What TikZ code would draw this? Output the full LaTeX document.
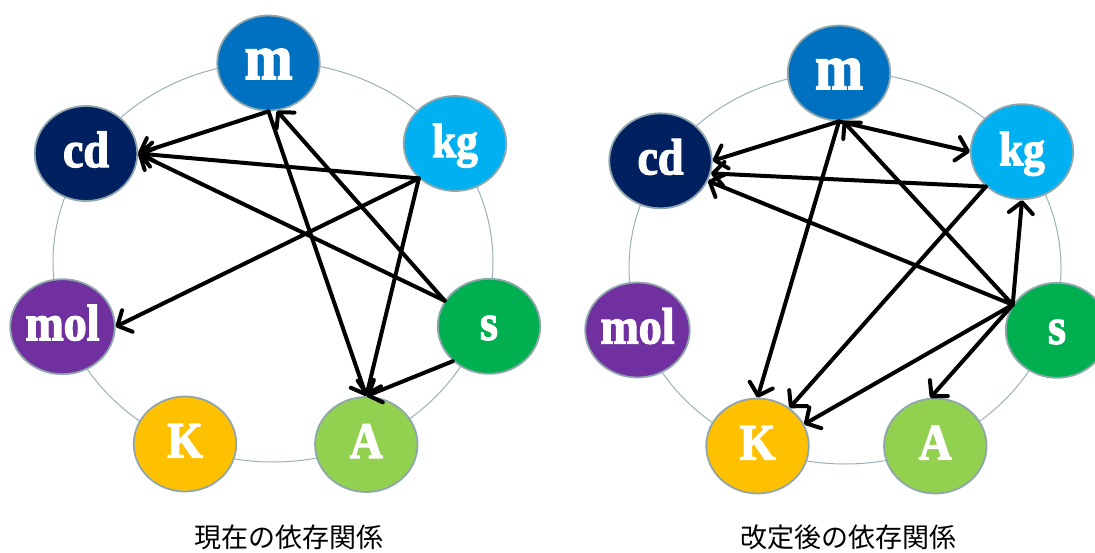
\documentclass[tikz,border=0pt]{standalone}
\usepackage{fontspec}
\newfontfamily\nodefont{Liberation Serif}[FakeStretch=0.9,FakeBold=2.5]
\newfontfamily\cjkfont{Noto Sans CJK JP}
\usetikzlibrary{shapes.geometric,arrows.meta}
\definecolor{colm}{HTML}{0070C0}
\definecolor{colcd}{HTML}{002060}
\definecolor{colkg}{HTML}{00B0F0}
\definecolor{cols}{HTML}{00B050}
\definecolor{colA}{HTML}{92D050}
\definecolor{colK}{HTML}{FFC000}
\definecolor{colmol}{HTML}{7030A0}
\definecolor{nodeborder}{HTML}{8FA6AC}
\definecolor{ringcol}{HTML}{9BB1B6}
\tikzset{
  unit/.style={ellipse, draw=nodeborder, line width=1.8pt,
    minimum width=102.5pt, minimum height=95pt, inner sep=0pt,
    text=white, text height=27pt, text depth=0pt,
    font={\nodefont\bfseries\fontsize{51pt}{51pt}\selectfont}},
  bigunit/.style={unit, text height=32pt,
    font={\nodefont\bfseries\fontsize{64pt}{64pt}\selectfont}},
  midunit/.style={unit,
    font={\nodefont\bfseries\fontsize{48pt}{48pt}\selectfont}},
  ring/.style={draw=ringcol, line width=1pt},
  dep/.style={line width=4pt, line cap=round,
    -{Straight Barb[length=11pt,width=24pt,round]}},
  caption/.style={anchor=base, font={\cjkfont\fontsize{27pt}{27pt}\selectfont}, text=black, inner sep=0pt}
}
\begin{document}
\begin{tikzpicture}[x=1pt,y=-1pt]
\useasboundingbox (0,0) rectangle (1095,552);
% rings
\draw[ring] (273,262) ellipse [x radius=220, y radius=200];
\draw[ring] (845,268) ellipse [x radius=216, y radius=196];
% left diagram
\node[bigunit, fill=colm]   (mL)   at (268.5,63)   {m};
\node[unit,    fill=colcd]  (cdL)  at (86,153.5)   {cd};
\node[midunit, fill=colkg]  (kgL)  at (455,143.5)  {kg};
\node[unit,    fill=colmol] (molL) at (62.5,326.7) {mol};
\node[unit,    fill=cols]   (sL)   at (489,326.3)  {s};
\node[unit,    fill=colK]   (KL)   at (185,444)    {K};
\node[unit,    fill=colA]   (AL)   at (366.3,444.5){A};
\draw[dep] (mL.south) -- (cdL.east);
\draw[dep] (kgL.224) -- (cdL.east);
\draw[dep] (sL.150) -- (cdL.east);
\draw[dep] (kgL.224) -- (molL.east);
\draw[dep] (mL.south) -- (AL.north);
\draw[dep] (sL.150) -- (mL.-80);
\draw[dep] (kgL.224) -- (AL.north);
\draw[dep] (sL.224) -- (AL.north);
% right diagram
\node[bigunit, fill=colm]   (mR)   at (839,73)     {m};
\node[unit,    fill=colcd]  (cdR)  at (660.5,160.8){cd};
\node[midunit, fill=colkg]  (kgR)  at (1022,151.7) {kg};
\node[unit,    fill=colmol] (molR) at (637.5,330)  {mol};
\node[unit,    fill=cols]   (sR)   at (1057,330.3) {s};
\node[unit,    fill=colK]   (KR)   at (757.5,446)  {K};
\node[unit,    fill=colA]   (AR)   at (935.3,446)  {A};
\draw[dep] (mR.south) -- (cdR.east);
\draw[dep] (mR.south) -- (kgR.west);
\draw[dep] (mR.south) -- (KR.north);
\draw[dep] (kgR.224) -- (cdR.-14);
\draw[dep] (kgR.224) -- (KR.50);
\draw[dep] (sR.150) -- (mR.-85);
\draw[dep] (sR.150) -- (cdR.-23);
\draw[dep] (sR.150) -- (kgR.south);
\draw[dep] (sR.150) -- (KR.25);
\draw[dep] (sR.150) -- (AR.96);
% captions
\node[caption] (capL) at (288.5,547) {現在の依存関係};
\node[caption] (capR) at (848.5,547) {改定後の依存関係};
\end{tikzpicture}
\end{document}
